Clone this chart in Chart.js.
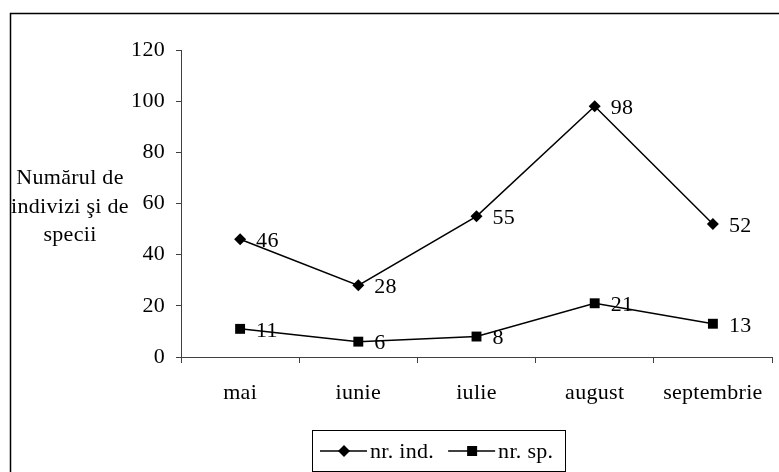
<!DOCTYPE html>
<html>
<head>
<meta charset="utf-8">
<script src="https://cdn.jsdelivr.net/npm/chart.js@4.4.0/dist/chart.umd.min.js"></script>
<style>
  html, body { margin: 0; padding: 0; background: #fff; }
  #wrap { position: relative; width: 779px; height: 472px; }
</style>
</head>
<body>
<div id="wrap"><canvas id="LineChart" width="779" height="472"></canvas></div>
<script>
const months = ['mai', 'iunie', 'iulie', 'august', 'septembrie'];
const nrInd = [46, 28, 55, 98, 52];
const nrSp = [11, 6, 8, 21, 13];
const yMax = 120;
const yStep = 20;
const yTitle = ['Numărul de', 'indivizi şi de', 'specii'];

const FONT = "'Liberation Serif', 'Times New Roman', serif";
const FSIZE = 22;
const axisColor = '#404040';

// outer frame, only left and top edges are inside the canvas
const framePlugin = {
  id: 'frame',
  beforeDraw(chart) {
    const c = chart.ctx;
    c.letterSpacing = '0.3px';
    c.save();
    c.strokeStyle = '#000';
    c.lineWidth = 1.5;
    c.strokeRect(10.5, 13.5, 800, 500);
    c.restore();
  }
};

// horizontal y-axis title on the left
const titlePlugin = {
  id: 'yTitle',
  afterDraw(chart) {
    const c = chart.ctx;
    c.save();
    c.font = FSIZE + 'px ' + FONT;
    c.fillStyle = '#000';
    c.textAlign = 'center';
    c.textBaseline = 'alphabetic';
    yTitle.forEach((t, i) => c.fillText(t, 70, 184 + i * 28.5));
    c.restore();
  }
};

// value next to each marker
const valuePlugin = {
  id: 'values',
  afterDatasetsDraw(chart) {
    const c = chart.ctx;
    c.save();
    c.font = FSIZE + 'px ' + FONT;
    c.fillStyle = '#000';
    c.textAlign = 'left';
    c.textBaseline = 'middle';
    chart.data.datasets.forEach((ds, i) => {
      chart.getDatasetMeta(i).data.forEach((p, j) => {
        c.fillText(String(ds.data[j]), p.x + 16, p.y + 2);
      });
    });
    c.restore();
  }
};

function marker(c, style, x, y) {
  c.beginPath();
  if (style === 'rectRot') {
    c.moveTo(x, y - 6); c.lineTo(x + 6, y); c.lineTo(x, y + 6); c.lineTo(x - 6, y);
    c.closePath();
  } else {
    c.rect(x - 5, y - 5, 10, 10);
  }
  c.fill();
}

// boxed legend under the chart: line + marker + label
const legendPlugin = {
  id: 'boxLegend',
  afterDraw(chart) {
    const c = chart.ctx;
    const y = 451;
    c.save();
    c.font = FSIZE + 'px ' + FONT;
    c.textBaseline = 'middle';
    c.textAlign = 'left';
    c.strokeStyle = '#000';
    c.fillStyle = '#000';
    let x = 320;
    chart.data.datasets.forEach(ds => {
      c.lineWidth = 1.5;
      c.beginPath();
      c.moveTo(x, y); c.lineTo(x + 47, y);
      c.stroke();
      marker(c, ds.pointStyle, x + 24, y);
      c.fillText(ds.label, x + 50, y + 1);
      x += 50 + c.measureText(ds.label).width + 14;
    });
    c.lineWidth = 1;
    c.strokeRect(312.5, 430.5, 253, 41);
    c.restore();
  }
};

const ctx = document.getElementById('LineChart');

new Chart(ctx, {
  type: 'line',
  data: {
    labels: months,
    datasets: [{
      label: 'nr. ind.',
      data: nrInd,
      borderColor: '#000',
      backgroundColor: '#000',
      borderWidth: 1.5,
      pointStyle: 'rectRot',
      pointRadius: 6,
      pointBorderWidth: 0,
      tension: 0
    }, {
      label: 'nr. sp.',
      data: nrSp,
      borderColor: '#000',
      backgroundColor: '#000',
      borderWidth: 1.5,
      pointStyle: 'rect',
      pointRadius: 7,
      pointBorderWidth: 0,
      tension: 0
    }]
  },
  options: {
    responsive: false,
    animation: false,
    events: [],
    layout: { padding: { left: 0, top: 50, right: 4, bottom: 0 } },
    plugins: {
      legend: { display: false },
      tooltip: { enabled: false }
    },
    scales: {
      x: {
        offset: true,
        afterFit(s) { s.height = 115; },
        grid: {
          offset: true,
          drawOnChartArea: false,
          drawTicks: true,
          tickLength: 6,
          color: axisColor
        },
        border: { color: axisColor, width: 1 },
        ticks: {
          color: '#000',
          font: { family: FONT, size: FSIZE },
          padding: 17,
          maxRotation: 0,
          autoSkip: false
        }
      },
      y: {
        min: 0,
        max: yMax,
        afterFit(s) { s.width = 181; },
        grid: {
          drawOnChartArea: false,
          drawTicks: true,
          tickLength: 5,
          color: axisColor
        },
        border: { color: axisColor, width: 1 },
        ticks: {
          stepSize: yStep,
          color: '#000',
          font: { family: FONT, size: FSIZE },
          padding: 11
        }
      }
    }
  },
  plugins: [framePlugin, titlePlugin, valuePlugin, legendPlugin]
});
</script>
</body>
</html>
